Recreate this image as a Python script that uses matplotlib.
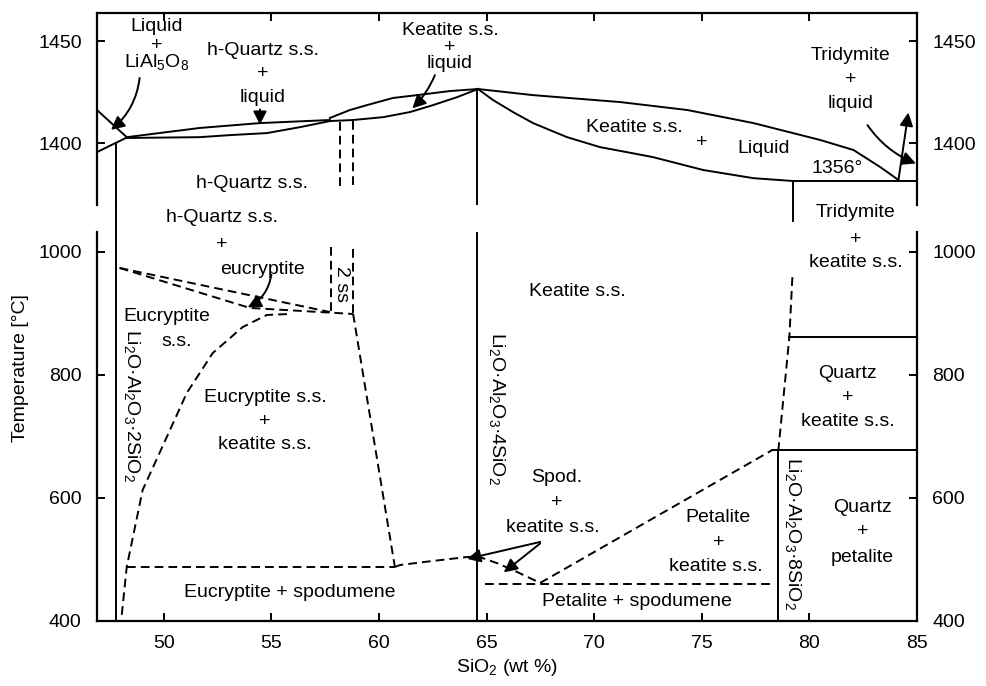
import matplotlib.pyplot as plt

plt.rcParams['font.family'] = ['Liberation Sans', 'DejaVu Sans']
plt.rcParams['mathtext.fontset'] = 'custom'
plt.rcParams['mathtext.rm'] = 'Liberation Sans'
plt.rcParams['mathtext.it'] = 'Liberation Sans:italic'
plt.rcParams['mathtext.bf'] = 'Liberation Sans:bold'

# ---- upper (liquidus) part, T in degC ----
lial_up_x = [46.9, 48.28]
lial_up_y = [1416.2, 1402.9]
lial_lo_x = [46.9, 48.28]
lial_lo_y = [1395.6, 1402.7]

hq_liq_x = [48.28, 51.67, 54.47, 57.72]
hq_liq_y = [1402.9, 1407.4, 1409.8, 1411.3]
hq_sol_x = [48.28, 51.67, 53.07, 54.79, 56.33, 57.72]
hq_sol_y = [1402.5, 1402.9, 1403.9, 1404.9, 1407.8, 1410.8]

kt_liq_x = [57.72, 58.65, 59.44, 60.65, 61.77, 63.3, 64.6,
            67.16, 71.21, 74.33, 77.4, 80.51, 82.05, 83.3, 84.14]
kt_liq_y = [1412.3, 1416.2, 1418.6, 1422.1, 1423.5, 1425.5, 1426.5,
            1423.5, 1420.1, 1416.2, 1409.8, 1401.5, 1396.6, 1388.2, 1381.9]
kt_sol_l_x = [57.72, 58.79, 60.19, 61.44, 62.51, 63.63, 64.6]
kt_sol_l_y = [1410.8, 1411.3, 1412.7, 1415.2, 1418.6, 1422.5, 1426.5]
kt_sol_r_x = [64.6, 65.3, 66.23, 67.16, 68.74, 70.28, 71.8, 72.74, 75.07, 77.4, 79.26]
kt_sol_r_y = [1426.5, 1421.1, 1415.2, 1409.8, 1402.9, 1398.0, 1395.0, 1393.1, 1386.8, 1382.8, 1381.4]

eutectic_x = [79.26, 85.0]
eutectic_y = [1381.4, 1381.4]
hq_dash_x = [58.19, 58.79]
hq_dash_top = [1410.5, 1411.0]
hq_dash_bot = [1378.0, 1378.0]

# ---- lower (subsolidus) part ----
comp_2 = 47.8     # Li2O.Al2O3.2SiO2
comp_4 = 64.55    # Li2O.Al2O3.4SiO2
comp_8 = 78.56    # Li2O.Al2O3.8SiO2
trid_x = 79.26

eucr_x = [48.05, 48.28, 49.02, 49.72, 51.07, 52.28, 53.67, 54.79, 55.86]
eucr_y = [410, 487.8, 613, 666.7, 770.7, 835.8, 878, 897.6, 899.2]
hq_eu_up_x = [47.95, 57.72]
hq_eu_up_y = [974, 902.4]
hq_eu_lo_x = [47.95, 54.0, 58.8]
hq_eu_lo_y = [974, 909, 899.2]
ss2_x = [57.75, 58.8]
ss2_top = [1008, 1005]
ss2_bot = [899.2, 899.2]
eu_kt_x = [58.8, 60.74]
eu_kt_y = [899.2, 487.8]
eu_sp_x = [48.28, 60.74]
eu_sp_y = [487.8, 487.8]
spod_x = [60.74, 60.98, 62.5, 64.1, 64.6, 65.49, 66.42, 67.49]
spod_y = [487.8, 491, 497.6, 504, 505, 494, 479.7, 461.8]
pet_sp_x = [64.93, 78.42]
pet_sp_y = [460.2, 460.2]
pet_kt_x = [67.49, 78.28]
pet_kt_y = [461.8, 678]
qz_kt_x = [79.21, 79.07, 78.56]
qz_kt_y = [959, 862, 678]
qz_upper_x = [79.07, 85.0]
qz_upper_y = [862, 862]
qz_lower_x = [78.28, 85.0]
qz_lower_y = [678, 678]

compound_x = [48.51, 65.49, 79.26]
compound_n = [2, 4, 8]

xticks = [50, 55, 60, 65, 70, 75, 80, 85]
yticks_top = [1400, 1450]
yticks_bot = [400, 600, 800, 1000]

fig = plt.figure(figsize=(9.86, 6.86), dpi=100)
ax_t = fig.add_axes([0.0984, 0.701, 0.8316, 0.2805])
ax_b = fig.add_axes([0.0984, 0.0948, 0.8316, 0.567])

FS = 14
LW = 1.4
dash = (0, (4.5, 2.6))
k = 'black'

for ax in (ax_t, ax_b):
    ax.set_xlim(46.9, 85.0)
    ax.set_xticks(xticks)
    for s in ax.spines.values():
        s.set_linewidth(1.6)
    ax.tick_params(direction='in', length=6, width=1.4, labelsize=FS,
                   right=True, labelright=True, top=True)
    ax.tick_params(axis='y', pad=11)
    ax.tick_params(axis='x', pad=10)

ax_t.set_ylim(1369.6, 1463.9)
ax_t.set_yticks(yticks_top)
ax_t.spines['bottom'].set_visible(False)
ax_t.tick_params(bottom=False, labelbottom=False)

ax_b.set_ylim(400, 1032.5)
ax_b.set_yticks(yticks_bot)
ax_b.spines['top'].set_visible(False)
ax_b.tick_params(top=False)

# liquidus / solidus curves
ax_t.plot(lial_up_x, lial_up_y, color=k, lw=LW)
ax_t.plot(lial_lo_x, lial_lo_y, color=k, lw=LW)
ax_t.plot(hq_liq_x, hq_liq_y, color=k, lw=LW)
ax_t.plot(hq_sol_x, hq_sol_y, color=k, lw=LW)
ax_t.plot(kt_liq_x, kt_liq_y, color=k, lw=LW)
ax_t.plot(kt_sol_l_x, kt_sol_l_y, color=k, lw=LW)
ax_t.plot(kt_sol_r_x, kt_sol_r_y, color=k, lw=LW)
ax_t.plot(eutectic_x, eutectic_y, color=k, lw=LW)
ax_t.plot([trid_x, trid_x], [eutectic_y[0], 1362], color=k, lw=LW, clip_on=False)
ax_t.plot([comp_2, comp_2], [1400.2, 1369.6], color=k, lw=LW)
ax_t.plot([comp_4, comp_4], [1426.5, 1369.6], color=k, lw=LW)
for x, y0, y1 in zip(hq_dash_x, hq_dash_top, hq_dash_bot):
    ax_t.plot([x, x], [y0, y1], color=k, lw=LW, ls=dash)

# compound lines and subsolidus fields
ax_b.plot([comp_2, comp_2], [400, 1080], color=k, lw=LW, clip_on=False)
ax_b.plot([comp_4, comp_4], [400, 1032.5], color=k, lw=LW)
ax_b.plot([comp_8, comp_8], [400, 678], color=k, lw=LW)
ax_b.plot(qz_upper_x, qz_upper_y, color=k, lw=LW)
ax_b.plot(qz_lower_x, qz_lower_y, color=k, lw=LW)

for xs, ys in [(eucr_x, eucr_y), (hq_eu_up_x, hq_eu_up_y), (hq_eu_lo_x, hq_eu_lo_y),
               (eu_kt_x, eu_kt_y), (eu_sp_x, eu_sp_y), (spod_x, spod_y),
               (pet_sp_x, pet_sp_y), (pet_kt_x, pet_kt_y), (qz_kt_x, qz_kt_y)]:
    ax_b.plot(xs, ys, color=k, lw=LW, ls=dash)
for x, y0, y1 in zip(ss2_x, ss2_top, ss2_bot):
    ax_b.plot([x, x], [y0, y1], color=k, lw=LW, ls=dash)


def arrow(ax, tail, head, rad=0.0):
    ax.annotate('', xy=head, xytext=tail,
                arrowprops=dict(arrowstyle='-|>', color=k, lw=LW, mutation_scale=20,
                                shrinkA=0, shrinkB=0,
                                connectionstyle='arc3,rad=%s' % rad))


arrow(ax_t, (48.88, 1431.9), (47.55, 1406.5), rad=-0.2)
arrow(ax_t, (54.47, 1416.5), (54.47, 1409.0))
arrow(ax_t, (62.6, 1433.3), (61.55, 1417.0), rad=-0.1)
arrow(ax_t, (84.14, 1381.9), (84.6, 1415.0))
arrow(ax_t, (82.7, 1408.8), (84.95, 1390.0), rad=0.15)
arrow(ax_b, (55.0, 963), (53.9, 910), rad=-0.25)
arrow(ax_b, (67.49, 528.5), (64.1, 501))
arrow(ax_b, (67.49, 526), (65.8, 479))


def label(ax, x, y, s, **kw):
    ax.text(x, y, s, ha='center', va='center', fontsize=FS, **kw)


# field labels, upper part
label(ax_t, 49.67, 1456.9, 'Liquid')
label(ax_t, 49.67, 1447.8, '+')
label(ax_t, 49.67, 1439.5, 'LiAl$_5$O$_8$')
label(ax_t, 54.6, 1445.6, 'h-Quartz s.s.')
label(ax_t, 54.6, 1434.0, '+')
label(ax_t, 54.6, 1422.5, 'liquid')
label(ax_t, 63.3, 1455.4, 'Keatite s.s.')
label(ax_t, 63.3, 1446.8, '+')
label(ax_t, 63.3, 1439.2, 'liquid')
label(ax_t, 71.86, 1407.4, 'Keatite s.s.')
label(ax_t, 74.98, 1400.5, '+')
label(ax_t, 77.86, 1397.5, 'Liquid')
label(ax_t, 81.3, 1387.7, '1356°')
label(ax_t, 81.9, 1443.1, 'Tridymite')
label(ax_t, 81.9, 1431.0, '+')
label(ax_t, 81.9, 1419.6, 'liquid')
label(ax_t, 54.09, 1380.4, 'h-Quartz s.s.')

# field labels, lower part
label(ax_b, 52.7, 1055.3, 'h-Quartz s.s.')
label(ax_b, 52.7, 1011.4, '+')
label(ax_b, 54.6, 971, 'eucryptite')
label(ax_b, 50.14, 894.3, 'Eucryptite')
label(ax_b, 50.6, 853.7, 's.s.')
label(ax_b, 54.7, 764, 'Eucryptite s.s.')
label(ax_b, 54.7, 723.6, '+')
label(ax_b, 54.7, 686.2, 'keatite s.s.')
label(ax_b, 58.28, 948, '2 ss', rotation=-90)
label(ax_b, 69.2, 935, 'Keatite s.s.')
label(ax_b, 82.14, 1065, 'Tridymite')
label(ax_b, 82.14, 1021, '+')
label(ax_b, 82.14, 983.7, 'keatite s.s.')
label(ax_b, 81.77, 803, 'Quartz')
label(ax_b, 81.77, 762.6, '+')
label(ax_b, 81.77, 723.6, 'keatite s.s.')
label(ax_b, 68.28, 632.5, 'Spod.')
label(ax_b, 68.28, 591.9, '+')
label(ax_b, 68.1, 552.8, 'keatite s.s.')
label(ax_b, 75.77, 567.5, 'Petalite')
label(ax_b, 75.77, 526.8, '+')
label(ax_b, 75.65, 487.8, 'keatite s.s.')
label(ax_b, 82.47, 583.7, 'Quartz')
label(ax_b, 82.47, 544.7, '+')
label(ax_b, 82.47, 504, 'petalite')
label(ax_b, 55.86, 445.5, 'Eucryptite + spodumene')
label(ax_b, 72.0, 431, 'Petalite + spodumene')

# compound names along their vertical lines
for xc, yc, n in zip(compound_x, [751, 746, 543], compound_n):
    label(ax_b, xc, yc, 'Li$_2$O·Al$_2$O$_3$·%dSiO$_2$' % n, rotation=-90)

ax_b.set_xlabel('SiO$_2$ (wt %)', fontsize=FS, labelpad=4)
fig.text(0.021, 0.463, 'Temperature [°C]', rotation=90, ha='center', va='center', fontsize=FS)

fig.savefig('out.png', dpi=100)
